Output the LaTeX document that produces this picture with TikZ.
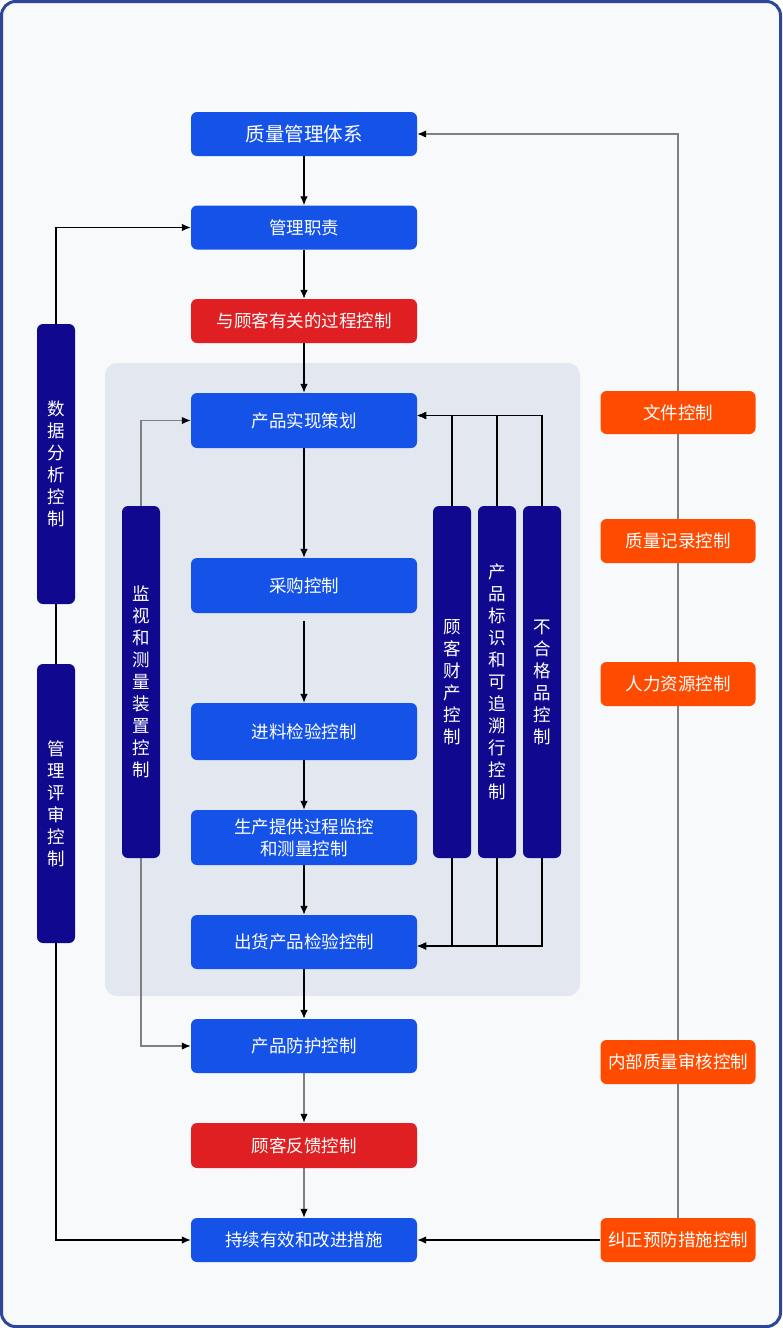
\documentclass[tikz,border=0pt]{standalone}
\usepackage{fontspec}
\setmainfont{Noto Sans CJK SC}
\usetikzlibrary{arrows.meta}

\definecolor{boxblue}{HTML}{1553E8}
\definecolor{boxred}{HTML}{E01F22}
\definecolor{boxnavy}{HTML}{10098F}
\definecolor{boxorange}{HTML}{FF4B00}
\definecolor{framecol}{HTML}{2E4598}
\definecolor{pagecol}{HTML}{F7F9FB}
\definecolor{panelcol}{HTML}{E2E7F0}
\definecolor{linegray}{HTML}{808080}

\pgfdeclarelayer{back}
\pgfdeclarelayer{lines}
\pgfsetlayers{back,lines,main}

\tikzset{
    box/.style = {rectangle, rounded corners=6, text=white, inner sep=0,
        minimum width=226, minimum height=44, align=center,
        font=\fontsize{17.5}{22}\selectfont},
    bluebox/.style = {box, fill=boxblue},
    redbox/.style = {box, fill=boxred},
    orangebox/.style = {box, fill=boxorange, minimum width=155},
    navybar/.style = {box, fill=boxnavy, minimum width=38},
    arr/.style = {draw=black, line width=1.2, -{Latex[length=9pt,width=7.5pt,color=black]}},
    grayarr/.style = {arr, draw=linegray, line width=1.4},
}

\begin{document}
\begin{tikzpicture}[x=1pt, y=-1pt]
    \useasboundingbox (0,0) rectangle (782,1328);
    \begin{pgfonlayer}{back}
        \draw[fill=pagecol, draw=framecol, line width=3, rounded corners=14] (1.5,1.5) rectangle (780.5,1326.5);
        \fill[panelcol, rounded corners=12] (105,363) rectangle (580,996);
    \end{pgfonlayer}

    % main column
    \node[bluebox, font=\fontsize{19.5}{22}\selectfont] (qms) at (304,134) {质量管理体系};
    \node[bluebox] (duty) at (304,227.5) {管理职责};
    \node[redbox] (custproc) at (304,321) {与顾客有关的过程控制};
    \node[bluebox, minimum height=55] (plan) at (304,420.5) {产品实现策划};
    \node[bluebox, minimum height=55] (purchase) at (304,585.5) {采购控制};
    \node[bluebox, minimum height=57] (incoming) at (304,731.5) {进料检验控制};
    \node[bluebox, minimum height=55] (produce) at (304,837.5) {生产提供过程监控\\和测量控制};
    \node[bluebox, minimum height=54] (ship) at (304,942) {出货产品检验控制};
    \node[bluebox, minimum height=54] (protect) at (304,1046) {产品防护控制};
    \node[redbox, minimum height=45] (feedback) at (304,1145.5) {顾客反馈控制};
    \node[bluebox] (improve) at (304,1240) {持续有效和改进措施};

    % vertical bars
    \node[navybar, minimum height=280] (analysis) at (56,464) {数\\据\\分\\析\\控\\制};
    \node[navybar, minimum height=279] (review) at (56,803.5) {管\\理\\评\\审\\控\\制};
    \node[navybar, minimum height=352] (monitor) at (141,682) {监\\视\\和\\测\\量\\装\\置\\控\\制};
    \node[navybar, minimum height=352] (custprop) at (452,682) {顾\\客\\财\\产\\控\\制};
    \node[navybar, minimum height=352] (trace) at (497,682) {产\\品\\标\\识\\和\\可\\追\\溯\\行\\控\\制};
    \node[navybar, minimum height=352] (nonconf) at (542,682) {不\\合\\格\\品\\控\\制};

    % right column
    \node[orangebox, minimum height=43] (docs) at (678,412.5) {文件控制};
    \node[orangebox] (records) at (678,541) {质量记录控制};
    \node[orangebox] (staff) at (678,684) {人力资源控制};
    \node[orangebox] (audit) at (678,1062) {内部质量审核控制};
    \node[orangebox] (correct) at (678,1240) {纠正预防措施控制};

    \begin{pgfonlayer}{lines}
        \draw[arr] (qms) -- (duty);
        \draw[arr] (duty) -- (custproc);
        \draw[arr] (custproc) -- (plan);
        \draw[arr] (plan) -- (purchase);
        \draw[arr, shorten <=8pt] (purchase) -- (incoming);
        \draw[arr] (incoming) -- (produce);
        \draw[arr] (produce) -- (ship);
        \draw[arr] (ship) -- (protect);
        \draw[grayarr] (protect) -- (feedback);
        \draw[grayarr] (feedback) -- (improve);

        \draw[arr] (analysis.north) |- (duty.west);
        \draw[arr, -] (analysis) -- (review);
        \draw[arr] (review.south) |- (improve.west);

        \draw[grayarr] (monitor.north) |- (plan.west);
        \draw[grayarr] (monitor.south) |- (protect.west);

        \draw[arr] (custprop.north) |- ([yshift=5pt]plan.east);
        \draw[arr] (trace.north) |- ([yshift=5pt]plan.east);
        \draw[arr] (nonconf.north) |- ([yshift=5pt]plan.east);
        \draw[arr] (custprop.south) |- ([yshift=-4pt]ship.east);
        \draw[arr] (trace.south) |- ([yshift=-4pt]ship.east);
        \draw[arr] (nonconf.south) |- ([yshift=-4pt]ship.east);

        \draw[grayarr] (correct.north) |- (qms.east);
        \draw[arr] (correct) -- (improve);
    \end{pgfonlayer}
\end{tikzpicture}
\end{document}
